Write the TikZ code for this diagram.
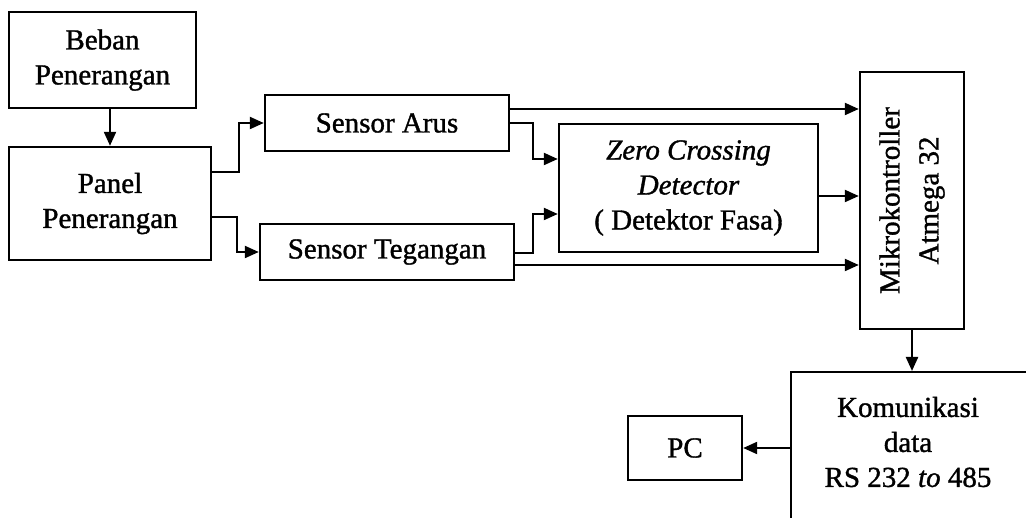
\documentclass[tikz,border=0pt]{standalone}
\usepackage{fontspec}
\setmainfont{Liberation Serif}[FakeBold=1.2, AutoFakeBold=1.2]
\usetikzlibrary{arrows.meta,calc}
\tikzset{
  box/.style={draw, line width=2.4pt, inner sep=0pt, align=center, font=\fontsize{29}{35}\selectfont},
  arr/.style={line width=2.2pt, -{Triangle[length=14pt,width=12pt]}},
  txt/.style={align=center, inner sep=0pt, font=\fontsize{29}{35}\selectfont}
}
\begin{document}
\begin{tikzpicture}[x=1pt,y=-1pt]
\useasboundingbox (0,0) rectangle (1026,518);
\fill[white] (0,0) rectangle (1026,518);
\node[box, minimum width=187pt, minimum height=96pt] (beban) at (102.5,60) {Beban\\Penerangan};
\node[box, minimum width=202pt, minimum height=113pt] (panel) at (110,203.5) {Panel\\Penerangan};
\node[box, minimum width=244pt, minimum height=56pt] (arus) at (387,123) {Sensor Arus};
\node[box, minimum width=254pt, minimum height=56pt] (teg) at (387,252) {Sensor Tegangan};
\node[box, minimum width=259pt, minimum height=128pt] (zcd) at (688.5,188) {\itshape Zero Crossing\\\itshape Detector\\( Detektor Fasa)};
\node[box, minimum width=104pt, minimum height=257pt] (mikro) at (912,200.5) {};
\node[txt, rotate=90, font=\fontsize{29}{39}\selectfont] (mikrotext) at (mikro.center) {Mikrokontroller\\Atmega 32};
\node[box, minimum width=300pt, minimum height=200pt, anchor=north west] (kom) at (790,371) {};
\node[txt] (komtext) at (908,442) {Komunikasi\\data\\RS 232 \textit{to} 485};
\node[box, minimum width=114pt, minimum height=64pt] (pc) at (685,448) {PC};

\draw[arr] (panel.north |- beban.south) -- (panel.north);
\draw[arr] ([yshift=31.5pt]panel.east) -- ++(27,0) |- (arus.west);
\draw[arr] ([yshift=-13.5pt]panel.east) -- ++(25,0) |- (teg.west);
\draw[arr] ([yshift=14pt]arus.east) coordinate (a1) -- (a1 -| mikro.west);
\draw[arr] (arus.east) -- ++(23,0) |- ([yshift=29pt]zcd.west);
\draw[arr] ([yshift=-1pt]teg.east) -- ++(18,0) |- ([yshift=-26pt]zcd.west);
\draw[arr] ([yshift=-13pt]teg.east) coordinate (t1) -- (t1 -| mikro.west);
\draw[arr] ([yshift=-8pt]zcd.east) coordinate (z1) -- (z1 -| mikro.west);
\draw[arr] (mikro.south) -- (mikro.south |- kom.north);
\draw[arr] (kom.west |- pc.east) -- (pc.east);
\end{tikzpicture}
\end{document}
